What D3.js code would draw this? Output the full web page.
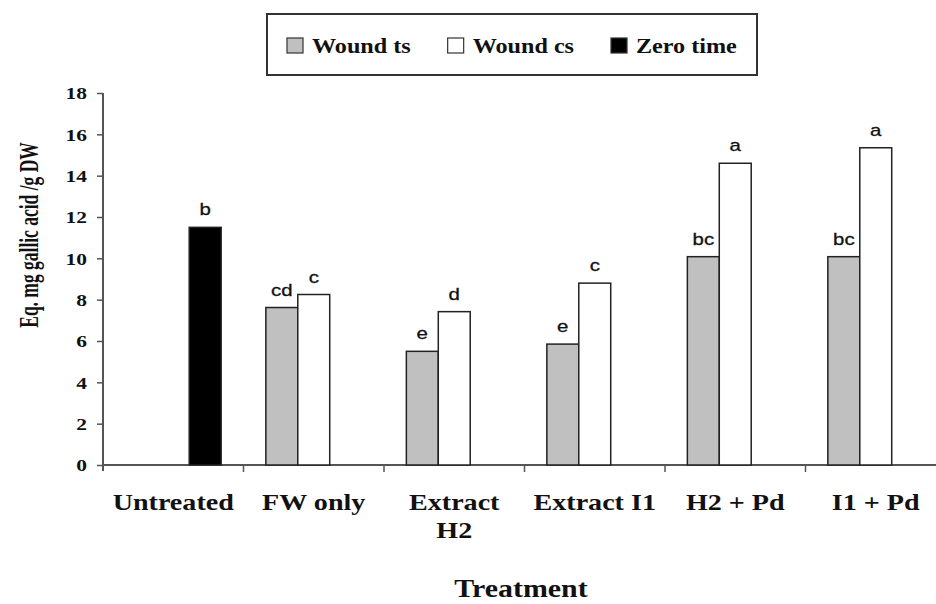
<!DOCTYPE html>
<html>
<head>
<meta charset="utf-8">
<script src="https://cdn.jsdelivr.net/npm/d3@7"></script>
<style>
  body { margin: 0; background: #fff; }
  svg { display: block; }
</style>
</head>
<body>
<div id="chart"></div>
<script>
// data
var categories = ["Untreated", "FW only", "Extract H2", "Extract I1", "H2 + Pd", "I1 + Pd"];
var seriesNames = ["Wound ts", "Wound cs", "Zero time"];
var woundTs = [null, 7.62, 5.5, 5.85, 10.08, 10.08];
var woundCs = [null, 8.25, 7.42, 8.8, 14.6, 15.35];
var zeroTime = [11.5, null, null, null, null, null];
var lettersTs = [null, "cd", "e", "e", "bc", "bc"];
var lettersCs = [null, "c", "d", "c", "a", "a"];
var lettersZero = ["b", null, null, null, null, null];
var yTicks = [0, 2, 4, 6, 8, 10, 12, 14, 16, 18];

var svgWidth = 936;
var svgHeight = 604;
var colors = { "Wound ts": "#c0c0c0", "Wound cs": "#ffffff", "Zero time": "#000000" };

var svg = d3.select("#chart").append("svg")
  .attr("width", svgWidth)
  .attr("height", svgHeight);

// the picture is stretched sideways, so widen text glyphs a bit
function stretch(sel, k) {
  sel.each(function() {
    var w = this.getComputedTextLength();
    d3.select(this).attr("textLength", w * k).attr("lengthAdjust", "spacingAndGlyphs");
  });
}

var serif = "'Liberation Serif', 'Times New Roman', serif";
var sans = "'Liberation Sans', Arial, sans-serif";

// scales
var x0 = d3.scaleBand().domain(categories).range([103, 946]).padding(0);
var x1 = d3.scaleBand().domain(seriesNames).range([0, x0.bandwidth()]).paddingInner(0).paddingOuter(0.7);
var y = d3.scaleLinear().domain([0, 18]).range([465, 93]);

// table of bars
var bars = [];
categories.forEach(function(c, i) {
  [[woundTs, lettersTs, "Wound ts"], [woundCs, lettersCs, "Wound cs"], [zeroTime, lettersZero, "Zero time"]]
    .forEach(function(s) {
      if (s[0][i] != null) bars.push({ cat: c, series: s[2], value: s[0][i], letter: s[1][i] });
    });
});

// y axis
var yAxis = svg.append("g")
  .attr("transform", "translate(103,0)")
  .call(d3.axisLeft(y).tickValues(yTicks).tickSize(6).tickPadding(10).tickFormat(d3.format("d")));
yAxis.select(".domain").attr("stroke", "#555").attr("stroke-width", 2).attr("d", "M0,93V471");
yAxis.selectAll(".tick line").attr("stroke", "#555").attr("stroke-width", 1.5);
yAxis.selectAll(".tick text")
  .attr("font-family", serif).attr("font-weight", "bold").attr("font-size", 16.5)
  .attr("fill", "#111").attr("dy", "0.35em")
  .call(stretch, 1.3);

// x axis: line plus ticks between categories
var xAxisG = svg.append("g");
xAxisG.append("line")
  .attr("x1", 103).attr("x2", svgWidth)
  .attr("y1", y(0)).attr("y2", y(0))
  .attr("stroke", "#555").attr("stroke-width", 2);
xAxisG.selectAll(".xtick")
  .data(categories.slice(1))
  .enter().append("line")
  .attr("x1", d => x0(d)).attr("x2", d => x0(d))
  .attr("y1", y(0)).attr("y2", y(0) + 7)
  .attr("stroke", "#555").attr("stroke-width", 1.5);

// bars
svg.append("g").selectAll("rect")
  .data(bars)
  .enter().append("rect")
  .attr("x", d => x0(d.cat) + x1(d.series))
  .attr("y", d => y(d.value))
  .attr("width", x1.bandwidth())
  .attr("height", d => y(0) - y(d.value))
  .attr("fill", d => colors[d.series])
  .attr("stroke", "#222")
  .attr("stroke-width", 1.5);

// significance letters
svg.append("g").selectAll("text")
  .data(bars)
  .enter().append("text")
  .attr("x", d => x0(d.cat) + x1(d.series) + x1.bandwidth() / 2)
  .attr("y", d => y(d.value) - 12)
  .attr("text-anchor", "middle")
  .attr("font-family", sans)
  .attr("font-size", 17)
  .attr("fill", "#111")
  .attr("stroke", "#111")
  .attr("stroke-width", 0.3)
  .text(d => d.letter)
  .call(stretch, 1.2);

// category labels
var catLabels = svg.append("g").selectAll("text")
  .data(categories)
  .enter().append("text")
  .attr("x", d => x0(d) + x0.bandwidth() / 2)
  .attr("y", 510)
  .attr("text-anchor", "middle")
  .attr("font-family", serif)
  .attr("font-weight", "bold")
  .attr("font-size", 24)
  .attr("fill", "#111");
catLabels.each(function(d) {
  var t = d3.select(this);
  var parts = d === "Extract H2" ? ["Extract", "H2"] : [d];
  parts.forEach(function(p, i) {
    t.append("tspan")
      .attr("x", x0(d) + x0.bandwidth() / 2)
      .attr("dy", i === 0 ? 0 : 28)
      .text(p);
  });
});
catLabels.selectAll("tspan").call(stretch, 1.17);

// axis titles
svg.append("text")
  .attr("x", 521)
  .attr("y", 597)
  .attr("text-anchor", "middle")
  .attr("font-family", serif)
  .attr("font-weight", "bold")
  .attr("font-size", 26)
  .attr("fill", "#111")
  .text("Treatment")
  .call(stretch, 1.15);

svg.append("text")
  .attr("transform", "translate(38,235) scale(1.6,1) rotate(-90)")
  .attr("text-anchor", "middle")
  .attr("font-family", serif)
  .attr("font-weight", "bold")
  .attr("font-size", 17.5)
  .attr("fill", "#111")
  .text("Eq. mg gallic acid /g DW");

// legend
var legend = svg.append("g");
legend.append("rect")
  .attr("x", 267).attr("y", 14)
  .attr("width", 490).attr("height", 61)
  .attr("fill", "#fff")
  .attr("stroke", "#333")
  .attr("stroke-width", 2);
var lx = 287;
seriesNames.forEach(function(name) {
  legend.append("rect")
    .attr("x", lx).attr("y", 38)
    .attr("width", 16).attr("height", 15)
    .attr("fill", colors[name])
    .attr("stroke", "#333")
    .attr("stroke-width", 1.2);
  var t = legend.append("text")
    .attr("x", lx + 25)
    .attr("y", 53)
    .attr("font-family", serif)
    .attr("font-weight", "bold")
    .attr("font-size", 21)
    .attr("fill", "#111")
    .text(name)
    .call(stretch, 1.15);
  // width after stretching
  lx = lx + 25 + +t.attr("textLength") + 37;
});
</script>
</body>
</html>
